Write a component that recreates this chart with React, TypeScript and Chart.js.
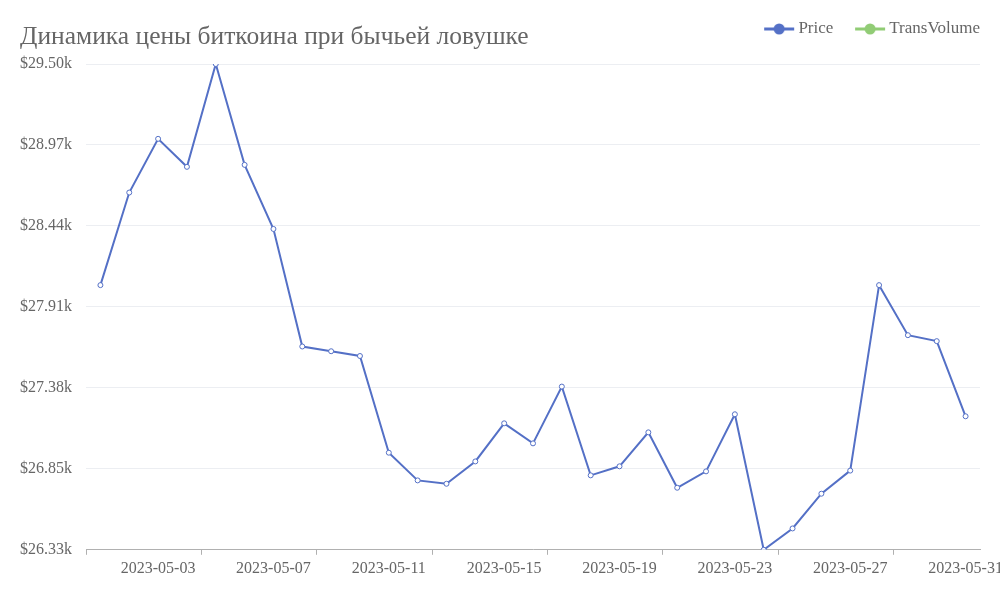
import React, { useEffect, useRef } from 'react';
import { Chart, registerables } from 'chart.js';

Chart.register(...registerables);

const TITLE = 'Динамика цены биткоина при бычьей ловушке';

const dates: string[] = [
  '2023-05-01', '2023-05-02', '2023-05-03', '2023-05-04', '2023-05-05', '2023-05-06', '2023-05-07',
  '2023-05-08', '2023-05-09', '2023-05-10', '2023-05-11', '2023-05-12', '2023-05-13', '2023-05-14',
  '2023-05-15', '2023-05-16', '2023-05-17', '2023-05-18', '2023-05-19', '2023-05-20', '2023-05-21',
  '2023-05-22', '2023-05-23', '2023-05-24', '2023-05-25', '2023-05-26', '2023-05-27', '2023-05-28',
  '2023-05-29', '2023-05-30', '2023-05-31',
];

const price: number[] = [
  28055, 28660, 29011, 28828, 29500, 28841, 28422, 27654, 27623, 27592,
  26960, 26779, 26757, 26903, 27152, 27021, 27392, 26812, 26871, 27093,
  26731, 26838, 27211, 26325.5, 26465, 26692, 26843, 28055, 27728, 27689,
  27198,
];

const transVolume: (number | null)[] = [];

const seriesNames = ['Price', 'TransVolume'];
const seriesColors = ['#5470c6', '#91cc75'];

const FONT = '"Liberation Serif", serif';
const TEXT_COLOR = '#666';

function legendIcon(color: string): HTMLCanvasElement {
  const c = document.createElement('canvas');
  c.width = 40;
  c.height = 12;
  const g = c.getContext('2d')!;
  const o = 8;
  g.strokeStyle = color;
  g.lineWidth = 3;
  g.beginPath();
  g.moveTo(o, 6);
  g.lineTo(o + 30, 6);
  g.stroke();
  g.fillStyle = color;
  g.beginPath();
  g.arc(o + 15, 6, 5.5, 0, Math.PI * 2);
  g.fill();
  return c;
}

const titlePlugin = {
  id: 'inlineTitle',
  afterLayout(chart: any) {
    const l = chart.legend;
    if (l) {
      const h = l.bottom - l.top;
      l.top = 0.5;
      l.bottom = 0.5 + h;
    }
  },
  afterDraw(chart: any) {
    const ctx = chart.ctx;
    ctx.save();
    ctx.font = `25.5px ${FONT}`;
    ctx.fillStyle = TEXT_COLOR;
    ctx.textAlign = 'left';
    ctx.textBaseline = 'alphabetic';
    ctx.fillText(TITLE, 20, 44);
    ctx.restore();
  },
};

export default function App() {
  const ref = useRef<HTMLCanvasElement | null>(null);

  useEffect(() => {
    if (!ref.current) return;
    const yMin = Math.min(...price);
    const yMax = Math.max(...price);
    const icons = seriesColors.map(legendIcon);

    const chart = new Chart(ref.current, {
      type: 'line',
      data: {
        labels: dates,
        datasets: [
          {
            label: seriesNames[0],
            data: price,
            borderColor: seriesColors[0],
            backgroundColor: seriesColors[0],
            borderWidth: 2,
            pointRadius: 2.5,
            pointBorderWidth: 1,
            pointBackgroundColor: '#fff',
            pointBorderColor: seriesColors[0],
            tension: 0,
          },
          {
            label: seriesNames[1],
            data: transVolume,
            borderColor: seriesColors[1],
            backgroundColor: seriesColors[1],
            borderWidth: 2,
          },
        ],
      },
      options: {
        animation: false,
        responsive: true,
        maintainAspectRatio: false,
        layout: { padding: { left: 20, right: 0, top: 0, bottom: 18 } },
        plugins: {
          title: { display: false },
          tooltip: { enabled: false },
          legend: {
            display: true,
            position: 'top',
            align: 'end',
            labels: {
              usePointStyle: true,
              pointStyleWidth: 27.5,
              padding: 20,
              color: TEXT_COLOR,
              font: { family: FONT, size: 17 },
              generateLabels: (ch: any) =>
                ch.data.datasets.map((ds: any, i: number) => ({
                  text: ds.label,
                  pointStyle: icons[i],
                  fillStyle: seriesColors[i],
                  strokeStyle: seriesColors[i],
                  lineWidth: 0,
                  hidden: false,
                  datasetIndex: i,
                  fontColor: TEXT_COLOR,
                })),
            },
          },
        },
        scales: {
          x: {
            type: 'category',
            offset: true,
            grid: {
              display: true,
              offset: true,
              drawOnChartArea: false,
              drawTicks: true,
              tickLength: 5,
              tickColor: (ctx: any) => (ctx.index % 4 === 0 ? '#b0b0b0' : 'rgba(0,0,0,0)'),
            },
            border: { display: true, color: '#b0b0b0', width: 1 },
            ticks: {
              autoSkip: false,
              maxRotation: 0,
              minRotation: 0,
              padding: 4,
              color: TEXT_COLOR,
              font: { family: FONT, size: 16 },
              callback: (_v: any, i: number) => (i % 4 === 2 ? dates[i] : ''),
            },
            afterFit: (s: any) => {
              s.paddingLeft = 0;
              s.paddingRight = 20;
            },
          },
          y: {
            type: 'linear',
            min: yMin,
            max: yMax,
            grid: { color: '#eceef2', lineWidth: 1, drawTicks: false },
            border: { display: false },
            ticks: {
              crossAlign: 'far',
              padding: 13,
              color: TEXT_COLOR,
              font: { family: FONT, size: 16 },
              callback: (v: any) => '$' + (Number(v) / 1000).toFixed(2) + 'k',
            },
            afterBuildTicks: (s: any) => {
              const arr = [];
              for (let i = 0; i <= 6; i++) arr.push({ value: yMin + ((yMax - yMin) * i) / 6 });
              s.ticks = arr;
            },
            afterFit: (s: any) => {
              s.width = 66;
              s.paddingTop = 64;
              s.paddingBottom = 0;
            },
          },
        },
      },
      plugins: [titlePlugin],
    } as any);

    return () => chart.destroy();
  }, []);

  return (
    <div style={{ position: 'fixed', left: 0, top: 0, width: 1000, height: 600, background: '#fff' }}>
      <canvas ref={ref} />
    </div>
  );
}
